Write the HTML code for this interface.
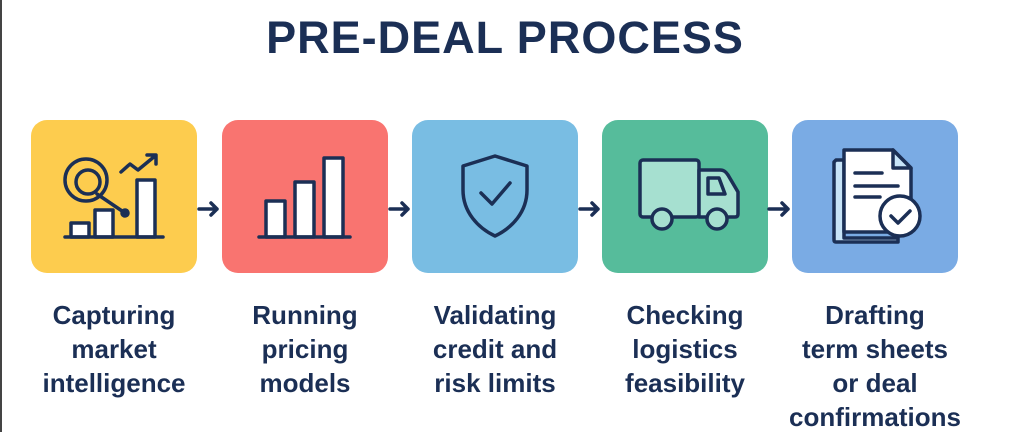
<!DOCTYPE html>
<html><head><style>
html,body{margin:0;padding:0;background:#fff;}
body{width:1022px;height:432px;position:relative;overflow:hidden;font-family:"Liberation Sans",sans-serif;}
.t{position:absolute;left:0;width:1010px;top:12px;text-align:center;font-size:45px;font-weight:bold;color:#1b2f55;letter-spacing:1px;}
.l{position:absolute;top:298px;width:190px;text-align:center;font-size:26px;line-height:34px;color:#1b2f55;font-weight:bold;}
</style></head><body>
<div style="position:absolute;left:0;top:0;width:2px;height:432px;background:#444"></div>
<div class="t">PRE-DEAL PROCESS</div>
<svg width="1022" height="432" style="position:absolute;left:0;top:0" fill="none" stroke="#1b2f55" stroke-width="3.5" stroke-linecap="round" stroke-linejoin="round">
<rect x="31" y="120" width="166" height="153" rx="16" fill="#fdcc4e" stroke="none"/>
<rect x="222" y="120" width="166" height="153" rx="16" fill="#f97470" stroke="none"/>
<rect x="412" y="120" width="166" height="153" rx="16" fill="#79bde3" stroke="none"/>
<rect x="602" y="120" width="166" height="153" rx="16" fill="#56bc9b" stroke="none"/>
<rect x="792" y="120" width="166" height="153" rx="16" fill="#7aabe4" stroke="none"/>
<!-- arrows -->
<g>
<path d="M199 209H217M211 203L217 209L211 215"/>
<path d="M390 209H408M402 203L408 209L402 215"/>
<path d="M580 209H598M592 203L598 209L592 215"/>
<path d="M769 209H788M782 203L788 209L782 215"/>
</g>
<!-- icon1 -->
<circle cx="86" cy="180" r="21"/><circle cx="88" cy="182" r="12"/>
<path d="M97 194L125 213"/><circle cx="125" cy="213" r="3" fill="#1b2f55"/>
<path d="M121 172L130 164L138 170L155 156M147 155H156V164"/>
<rect x="71" y="223" width="18" height="14" fill="#fff"/><rect x="95" y="210" width="18" height="27" fill="#fff"/><rect x="137" y="180" width="18" height="57" fill="#fff"/>
<path d="M65 237H163"/>
<!-- icon2 -->
<rect x="266" y="201" width="19" height="36" fill="#fff"/><rect x="295" y="182" width="19" height="55" fill="#fff"/><rect x="324" y="158" width="19" height="79" fill="#fff"/>
<path d="M259 237H350"/>
<!-- icon3 shield -->
<path d="M495 156L527 166V190C527 212 512 228 495 236C478 228 463 212 463 190V166Z"/>
<path d="M481 193L492 204L510 183"/>
<!-- icon4 truck -->
<rect x="640" y="160" width="59" height="57" rx="3" fill="#a6e0d0"/>
<path d="M699 170H720C724 170 726 172 728 175L738 192V214C738 216 737 217 735 217H699Z" fill="#a6e0d0"/>
<path d="M708 178H719L725 194H708Z" fill="#a6e0d0"/>
<circle cx="662" cy="219" r="10" fill="#a6e0d0"/><circle cx="717" cy="219" r="10" fill="#a6e0d0"/>
<!-- icon5 doc -->
<path d="M836 160H844V238H898V242H836C834 242 834 241 834 239V162Z" fill="#c7e4f8"/>
<path d="M844 150H893L911 168V232H844Z" fill="#fff"/>
<path d="M893 150V168H911Z" fill="#c7e4f8"/>
<path d="M855 173H882M855 186H898M855 197H880"/>
<circle cx="900" cy="216" r="20" fill="#fff"/>
<path d="M891 216L898 223L910 211"/>
</svg>
<div class="l" style="left:19px">Capturing<br>market<br>intelligence</div>
<div class="l" style="left:210px">Running<br>pricing<br>models</div>
<div class="l" style="left:400px">Validating<br>credit and<br>risk limits</div>
<div class="l" style="left:590px">Checking<br>logistics<br>feasibility</div>
<div class="l" style="left:780px">Drafting<br>term sheets<br>or deal<br>confirmations</div>
</body></html>
